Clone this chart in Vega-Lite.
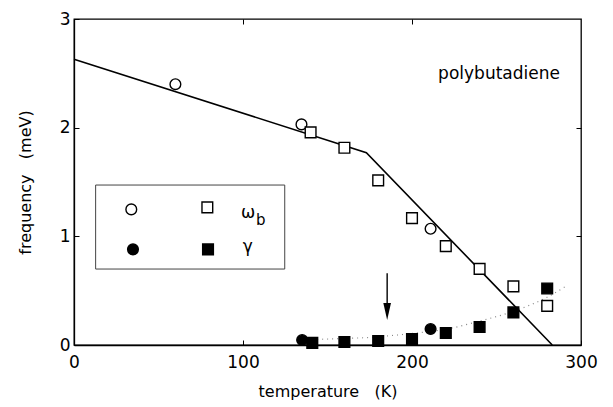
{
  "$schema": "https://vega.github.io/schema/vega-lite/v6.json",
  "width": 507,
  "height": 326,
  "autosize": {"type": "none"},
  "padding": {"left": 74, "top": 19, "right": 32, "bottom": 62},
  "background": "white",
  "config": {
    "font": "DejaVu Sans",
    "view": {"stroke": "black", "strokeWidth": 1.3},
    "axis": {"grid": false, "domainColor": "black", "tickColor": "black", "labelColor": "black", "titleColor": "black", "labelFontSize": 17, "titleFontSize": 16, "titleFontWeight": "normal", "labelFlush": false, "labelOverlap": false}
  },
  "datasets": {
    "fit": [
      {"T": 0, "f": 2.63},
      {"T": 173, "f": 1.77},
      {"T": 283, "f": 0}
    ],
    "gfit": [
      {"T": 135, "f": 0.045},
      {"T": 145, "f": 0.052},
      {"T": 160, "f": 0.06},
      {"T": 175, "f": 0.07},
      {"T": 190, "f": 0.09},
      {"T": 205, "f": 0.115},
      {"T": 220, "f": 0.145},
      {"T": 240, "f": 0.22},
      {"T": 260, "f": 0.31},
      {"T": 280, "f": 0.44},
      {"T": 292, "f": 0.55}
    ],
    "pts": [
      {"T": 60, "f": 2.40, "shape": "circle", "fill": "open"},
      {"T": 134.6, "f": 2.03, "shape": "circle", "fill": "open"},
      {"T": 211, "f": 1.07, "shape": "circle", "fill": "open"},
      {"T": 140, "f": 1.957, "shape": "square", "fill": "open"},
      {"T": 160, "f": 1.815, "shape": "square", "fill": "open"},
      {"T": 180, "f": 1.515, "shape": "square", "fill": "open"},
      {"T": 200, "f": 1.168, "shape": "square", "fill": "open"},
      {"T": 220, "f": 0.91, "shape": "square", "fill": "open"},
      {"T": 240, "f": 0.70, "shape": "square", "fill": "open"},
      {"T": 260, "f": 0.54, "shape": "square", "fill": "open"},
      {"T": 280, "f": 0.36, "shape": "square", "fill": "open"},
      {"T": 135, "f": 0.046, "shape": "circle", "fill": "filled"},
      {"T": 211, "f": 0.147, "shape": "circle", "fill": "filled"},
      {"T": 141, "f": 0.02, "shape": "square", "fill": "filled"},
      {"T": 160, "f": 0.028, "shape": "square", "fill": "filled"},
      {"T": 180, "f": 0.037, "shape": "square", "fill": "filled"},
      {"T": 200, "f": 0.055, "shape": "square", "fill": "filled"},
      {"T": 220, "f": 0.11, "shape": "square", "fill": "filled"},
      {"T": 240, "f": 0.166, "shape": "square", "fill": "filled"},
      {"T": 260, "f": 0.30, "shape": "square", "fill": "filled"},
      {"T": 280, "f": 0.52, "shape": "square", "fill": "filled"},
      {"T": 33.9, "f": 1.248, "shape": "circle", "fill": "open"},
      {"T": 78.9, "f": 1.267, "shape": "square", "fill": "open"},
      {"T": 34.9, "f": 0.88, "shape": "circle", "fill": "filled"},
      {"T": 79.3, "f": 0.88, "shape": "square", "fill": "filled"}
    ]
  },
  "resolve": {"axis": {"x": "independent", "y": "independent"}},
  "layer": [
    {
      "data": {"name": "fit"},
      "mark": {"type": "line", "color": "black", "strokeWidth": 1.6},
      "encoding": {
        "x": {"field": "T", "type": "quantitative", "scale": {"domain": [0, 300], "nice": false},
          "axis": {"values": [0, 100, 200, 300], "title": "temperature\u00a0\u00a0\u00a0(K)", "tickSize": -5, "labelPadding": 14, "titlePadding": 13, "domainWidth": 1.3, "format": "d"}},
        "y": {"field": "f", "type": "quantitative", "scale": {"domain": [0, 3], "nice": false},
          "axis": {"values": [0, 1, 2, 3], "title": "frequency\u00a0\u00a0\u00a0(meV)", "tickSize": -5, "labelPadding": 9, "titlePadding": 26, "domainWidth": 1.3, "format": "d"}}
      }
    },
    {
      "data": {"name": "gfit"},
      "mark": {"type": "line", "color": "#888", "strokeWidth": 1.2, "strokeDash": [1, 4], "interpolate": "monotone"},
      "encoding": {
        "x": {"field": "T", "type": "quantitative", "axis": {"orient": "top", "values": [100, 200], "labels": false, "domain": false, "tickSize": -5, "title": null}},
        "y": {"field": "f", "type": "quantitative", "axis": {"orient": "right", "values": [1, 2], "labels": false, "domain": false, "tickSize": -5, "title": null}}
      }
    },
    {
      "data": {"values": [{"x1": 12.8, "x2": 124.7, "y1": 0.699, "y2": 1.472}]},
      "mark": {"type": "rect", "fill": null, "stroke": "#444", "strokeWidth": 1},
      "encoding": {
        "x": {"field": "x1", "type": "quantitative", "axis": null},
        "x2": {"field": "x2"},
        "y": {"field": "y1", "type": "quantitative", "axis": null},
        "y2": {"field": "y2"}
      }
    },
    {
      "data": {"name": "pts"},
      "mark": {"type": "point", "stroke": "black", "strokeWidth": 1.4, "opacity": 1, "size": 115},
      "encoding": {
        "x": {"field": "T", "type": "quantitative", "axis": null},
        "y": {"field": "f", "type": "quantitative", "axis": null},
        "shape": {"field": "shape", "type": "nominal", "scale": {"domain": ["circle", "square"], "range": ["circle", "square"]}, "legend": null},
        "fill": {"field": "fill", "type": "nominal", "scale": {"domain": ["open", "filled"], "range": ["white", "black"]}, "legend": null}
      }
    },
    {
      "data": {"values": [{"T": 185.3, "f": 0.66, "f2": 0.33}]},
      "mark": {"type": "rule", "color": "black", "strokeWidth": 1.4},
      "encoding": {
        "x": {"field": "T", "type": "quantitative", "axis": null},
        "y": {"field": "f", "type": "quantitative", "axis": null},
        "y2": {"field": "f2"}
      }
    },
    {
      "data": {"values": [{"T": 185.3, "f": 0.308}]},
      "mark": {"type": "point", "shape": "M-0.45,-1L0.45,-1L0,1Z", "filled": true, "color": "black", "opacity": 1, "size": 289},
      "encoding": {
        "x": {"field": "T", "type": "quantitative", "axis": null},
        "y": {"field": "f", "type": "quantitative", "axis": null}
      }
    },
    {
      "data": {"values": [
        {"T": 251.5, "f": 2.447, "label": "polybutadiene", "size": "big"},
        {"T": 103.1, "f": 1.168, "label": "ω", "size": "big"},
        {"T": 110.5, "f": 1.104, "label": "b", "size": "small"},
        {"T": 102.8, "f": 0.856, "label": "γ", "size": "big"}
      ]},
      "mark": {"type": "text", "color": "black", "baseline": "alphabetic", "align": "center"},
      "encoding": {
        "x": {"field": "T", "type": "quantitative", "axis": null},
        "y": {"field": "f", "type": "quantitative", "axis": null},
        "text": {"field": "label"},
        "size": {"field": "size", "type": "nominal", "scale": {"domain": ["big", "small"], "range": [17, 15]}, "legend": null}
      }
    }
  ]
}
